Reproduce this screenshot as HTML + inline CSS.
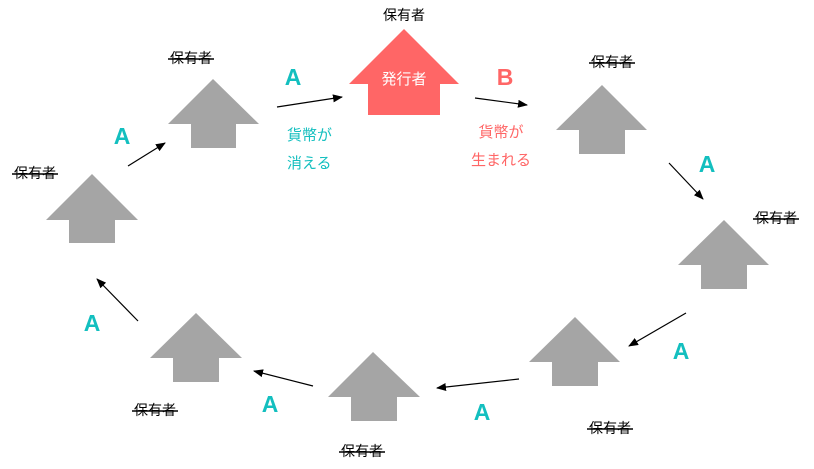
<!DOCTYPE html>
<html><head><meta charset="utf-8"><style>
html,body{margin:0;padding:0;background:#fff;}
#c{position:relative;width:814px;height:469px;overflow:hidden;font-family:"Liberation Sans","Noto Sans CJK JP",sans-serif;}
.l{position:absolute;font-size:14px;line-height:16px;color:#000;transform:translate(-50%,-50%);white-space:nowrap;}
.A{position:absolute;font-size:23px;font-weight:bold;color:#13bfbf;transform:translate(-50%,-50%);line-height:24px;}
.t{position:absolute;font-size:14px;line-height:28px;color:#13bfbf;}
svg{position:absolute;left:0;top:0;}
</style></head><body><div id="c">
<svg width="814" height="469">
<defs><marker id="m" markerWidth="10" markerHeight="8" refX="9" refY="4" orient="auto" markerUnits="userSpaceOnUse"><path d="M0,0 L10,4 L0,8 z" fill="#000"/></marker></defs>
<g fill="#a5a5a5">
<polygon points="46,220 92,174 138,220 115,220 115,243 69,243 69,220"/>
<polygon points="168,124 213,79 259,124 236,124 236,148 191,148 191,124"/>
<polygon points="556,130 602,85 647,130 625,130 625,154 579,154 579,130"/>
<polygon points="678,265 724,220 769,265 747,265 747,289 701,289 701,265"/>
<polygon points="529,362 575,317 620,362 598,362 598,386 552,386 552,362"/>
<polygon points="328,397 373,352 420,397 397,397 397,421 351,421 351,397"/>
<polygon points="150,358 196,313 242,358 219,358 219,382 173,382 173,358"/>
</g>
<polygon fill="#ff6666" points="349,84 404,29 459,84 440,84 440,115 368,115 368,84"/>
<g stroke="#000" stroke-width="1.2" marker-end="url(#m)">
<line x1="277" y1="107" x2="342" y2="97"/>
<line x1="475" y1="98" x2="527" y2="105"/>
<line x1="128" y1="166" x2="165" y2="143"/>
<line x1="669" y1="163" x2="703" y2="199"/>
<line x1="686" y1="313" x2="629" y2="346"/>
<line x1="519" y1="379" x2="437" y2="388"/>
<line x1="313" y1="386" x2="254" y2="371"/>
<line x1="138" y1="321" x2="97" y2="279"/>
</g>
</svg>
<div class="l" style="left:404px;top:15px">保有者</div>
<div class="l" style="left:404px;top:80px;color:#fff;font-size:15px">発行者</div>
<div class="l" style="left:191px;top:58px">保有者</div>
<div class="l" style="left:35px;top:173px">保有者</div>
<div class="l" style="left:612px;top:62px">保有者</div>
<div class="l" style="left:776px;top:218px">保有者</div>
<div class="l" style="left:610px;top:428px">保有者</div>
<div class="l" style="left:362px;top:451px">保有者</div>
<div class="l" style="left:155px;top:410px">保有者</div>
<svg width="814" height="469"><g stroke="#000" stroke-width="1.5">
<line x1="168" y1="59" x2="214" y2="59"/>
<line x1="12" y1="174" x2="58" y2="174"/>
<line x1="589" y1="63" x2="635" y2="63"/>
<line x1="753" y1="219" x2="799" y2="219"/>
<line x1="587" y1="429" x2="633" y2="429"/>
<line x1="339" y1="452" x2="385" y2="452"/>
<line x1="132" y1="411" x2="178" y2="411"/>
</g></svg>
<div class="A" style="left:122px;top:136px">A</div>
<div class="A" style="left:293px;top:77px">A</div>
<div class="A" style="left:505px;top:77px;color:#ff6666">B</div>
<div class="A" style="left:707px;top:164px">A</div>
<div class="A" style="left:681px;top:351px">A</div>
<div class="A" style="left:482px;top:412px">A</div>
<div class="A" style="left:270px;top:404px">A</div>
<div class="A" style="left:92px;top:323px">A</div>
<div class="t" style="left:287px;top:122px;font-size:15px">貨幣が<br>消える</div>
<div class="t" style="left:466px;top:119px;color:#ff6666;text-align:center;width:70px;font-size:15px">貨幣が<br>生まれる</div>
</div></body></html>
